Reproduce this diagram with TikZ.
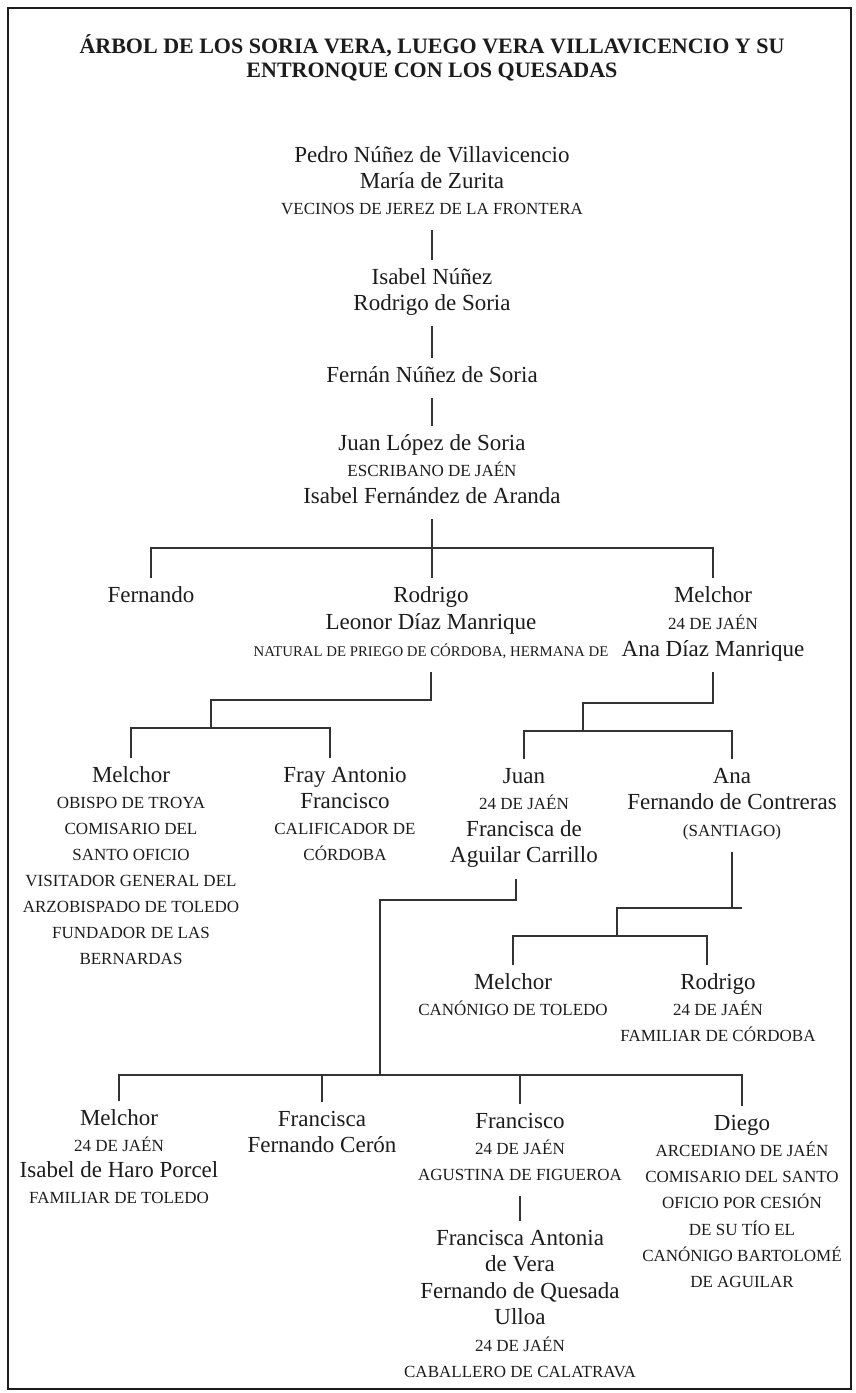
\documentclass[tikz,border=0pt]{standalone}
\usepackage{fontspec}
\setmainfont{Liberation Serif}
\newcommand\mytop{\rule{0pt}{24pt}}
\newcommand\mybot{\rule[-16pt]{0pt}{16pt}}
\newcommand\mycaps[1]{{\fontsize{17}{26}\selectfont #1}}
\newcommand\mysmallcaps[1]{{\fontsize{14.8}{26}\selectfont #1}}
\definecolor{ink}{HTML}{1C1C1C}
\definecolor{rulec}{HTML}{333333}
\begin{document}
\begin{tikzpicture}[x=1pt,y=-1pt,
  person/.style={align=center, anchor=north, inner sep=0pt, outer sep=0pt, text=ink,
    font=\fontsize{23}{26}\selectfont},
  wide/.style={font=\fontsize{23}{26.5}\selectfont},
  wider/.style={font=\fontsize{23}{27}\selectfont},
  conn/.style={draw=rulec, line width=1.1pt},
  frame/.style={draw=ink, line width=1.6pt}]
\useasboundingbox (0,0) rectangle (855,1393);
\fill[white] (0,0) rectangle (855,1393);
\draw[frame] (8,8) rectangle (851,1389);

% title
\node[person, font=\bfseries\fontsize{22}{24}\selectfont] (title) at (432,29)
  {\mytop ÁRBOL DE LOS SORIA VERA, LUEGO VERA VILLAVICENCIO Y SU\\ENTRONQUE CON LOS QUESADAS};

% main line
\node[person] (pedro) at (432,138)
  {\mytop Pedro Núñez de Villavicencio\\María de Zurita\\\mycaps{VECINOS DE JEREZ DE LA FRONTERA}\mybot};
\node[person] (isabel) at (432,260) {\mytop Isabel Núñez\\Rodrigo de Soria\mybot};
\node[person] (fernan) at (432,358) {\mytop Fernán Núñez de Soria\mybot};
\node[person, wide] (juanlopez) at (432,426)
  {\mytop Juan López de Soria\\\mycaps{ESCRIBANO DE JAÉN}\\Isabel Fernández de Aranda\mybot};

% children of Juan López
\node[person] (fernando) at (151,578) {\mytop Fernando\mybot};
\node[person, wider] (rodrigo) at (431,578)
  {\mytop Rodrigo\\Leonor Díaz Manrique\\\mysmallcaps{NATURAL DE PRIEGO DE CÓRDOBA, HERMANA DE}\mybot};
\node[person, wider] (melchorA) at (713,578)
  {\mytop Melchor\\\mycaps{24 DE JAÉN}\\Ana Díaz Manrique\mybot};

% children of Rodrigo
\node[person] (melchorL) at (131,758)
  {\mytop Melchor\\\mycaps{OBISPO DE TROYA}\\\mycaps{COMISARIO DEL}\\\mycaps{SANTO OFICIO}\\
   \mycaps{VISITADOR GENERAL DEL}\\\mycaps{ARZOBISPADO DE TOLEDO}\\\mycaps{FUNDADOR DE LAS}\\\mycaps{BERNARDAS}\mybot};
\node[person] (fray) at (345,758)
  {\mytop Fray Antonio\\Francisco\\\mycaps{CALIFICADOR DE}\\\mycaps{CÓRDOBA}\mybot};

% children of Melchor
\node[person, wide] (juan) at (524,759)
  {\mytop Juan\\\mycaps{24 DE JAÉN}\\Francisca de\\Aguilar Carrillo\mybot};
\node[person, wide] (ana) at (732,759)
  {\mytop Ana\\Fernando de Contreras\\\mycaps{(SANTIAGO)}\mybot};

% children of Ana
\node[person] (melchorC) at (513,965) {\mytop Melchor\\\mycaps{CANÓNIGO DE TOLEDO}\mybot};
\node[person] (rodrigoC) at (718,965)
  {\mytop Rodrigo\\\mycaps{24 DE JAÉN}\\\mycaps{FAMILIAR DE CÓRDOBA}\mybot};

% children of Juan
\node[person] (melchorB) at (119,1101)
  {\mytop Melchor\\\mycaps{24 DE JAÉN}\\Isabel de Haro Porcel\\\mycaps{FAMILIAR DE TOLEDO}\mybot};
\node[person, wide] (francisca) at (322,1102) {\mytop Francisca\\Fernando Cerón\mybot};
\node[person] (francisco) at (520,1104)
  {\mytop Francisco\\\mycaps{24 DE JAÉN}\\\mycaps{AGUSTINA DE FIGUEROA}\mybot};
\node[person, wide] (fa) at (520,1221)
  {\mytop Francisca Antonia\\de Vera\\Fernando de Quesada\\Ulloa\\\mycaps{24 DE JAÉN}\\\mycaps{CABALLERO DE CALATRAVA}\mybot};
\node[person, font=\fontsize{23}{26.3}\selectfont] (diego) at (742,1106)
  {\mytop Diego\\\mycaps{ARCEDIANO DE JAÉN}\\\mycaps{COMISARIO DEL SANTO}\\\mycaps{OFICIO POR CESIÓN}\\
   \mycaps{DE SU TÍO EL}\\\mycaps{CANÓNIGO BARTOLOMÉ}\\\mycaps{DE AGUILAR}\mybot};

% junction points
\coordinate (b1) at (432,548);
\coordinate (r3) at (211,700);
\coordinate (r2) at (211,728);
\coordinate (m3) at (583,703);
\coordinate (m2) at (583,731);
\coordinate (a1) at (617,908);
\coordinate (a2) at (617,936);
\coordinate (jv) at (380,900);
\coordinate (jb) at (380,1075);

% connectors
\draw[conn] (pedro.south) -- (isabel.north);
\draw[conn] (isabel.south) -- (fernan.north);
\draw[conn] (fernan.south) -- (juanlopez.north);
\draw[conn] (juanlopez.south) -- (juanlopez.south |- rodrigo.north);
\draw[conn] (fernando.north) |- (b1) -| (melchorA.north);

\draw[conn] (rodrigo.south) |- (r3) -- (r2);
\draw[conn] (melchorL.north) |- (r2) -| ([xshift=-15pt]fray.north);

\draw[conn] (melchorA.south) |- (m3) -- (m2);
\draw[conn] (juan.north) |- (m2) -| (ana.north);

\draw[conn] (ana.south) -- (ana.south |- a1);
\draw[conn] ([xshift=10pt]ana.south |- a1) -- (a1) -- (a2);
\draw[conn] (melchorC.north) |- (a2) -| ([xshift=-11pt]rodrigoC.north);

\draw[conn] ([xshift=-8pt]juan.south) |- (jv) -- (jb);
\draw[conn] (melchorB.north) |- (jb) -| (diego.north);
\draw[conn] (francisca.north) -- (francisca.north |- jb);
\draw[conn] (francisco.north) -- (francisco.north |- jb);
\draw[conn] (francisco.south) -- (fa.north);
\end{tikzpicture}
\end{document}
